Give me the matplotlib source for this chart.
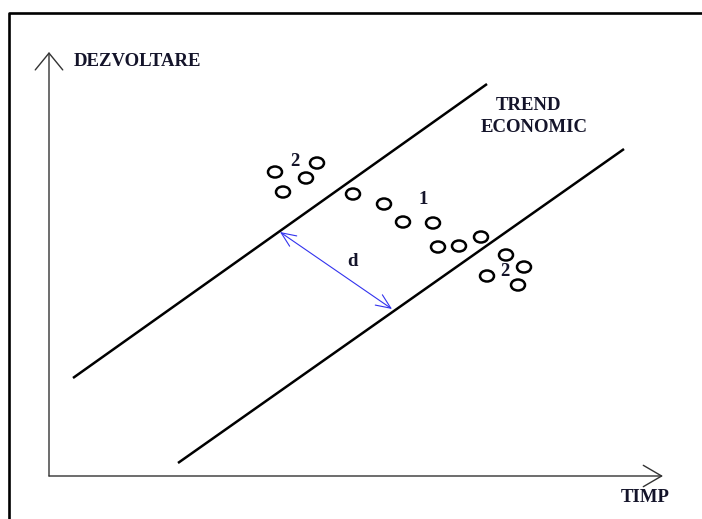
import matplotlib
matplotlib.use("Agg")
import matplotlib.pyplot as plt
from matplotlib.patches import Ellipse, FancyArrowPatch

# diagram coordinates (pixel space of the original picture, y downwards)
upper_x = [73, 487]
upper_y = [378, 84]
lower_x = [178, 624]
lower_y = [463, 149]

# observations: group 2 (upper left), group 1 (inside the band), group 2 (lower right)
grp2a_x = [275, 317, 306, 283]
grp2a_y = [172, 163, 178, 192]
grp1_x = [353, 384, 403, 433, 438, 459, 481]
grp1_y = [194, 204, 222, 223, 247, 246, 237]
grp2b_x = [506, 524, 487, 518]
grp2b_y = [255, 267, 276, 285]

# distance d between the trend lines
d_start = (280, 232)
d_end = (392, 309)

# axes
origin = (49, 476)
y_tip = (49, 52)
x_tip = (663, 476)

labels = ["DEZVOLTARE", "TIMP", "TREND", "ECONOMIC", "d", "1", "2", "2"]
label_pos = [(74, 62), (621, 497), (528, 106), (534, 127),
             (352, 262), (423, 199), (295, 161), (505, 272)]
label_ha = ["left", "left", "center", "center", "center", "center", "center", "center"]

fig = plt.figure(figsize=(7.02, 5.19), dpi=100)
ax = fig.add_axes([0, 0, 1, 1])
ax.set_xlim(0, 702)
ax.set_ylim(519, 0)
ax.axis("off")

# outer frame (only top and left edges show)
ax.plot([9, 9, 710], [530, 13, 13], color="black", lw=1.9, solid_capstyle="butt")

# axes with open arrow heads
ax.annotate("", xy=y_tip, xytext=origin,
            arrowprops=dict(arrowstyle="->,head_length=0.55,head_width=0.45",
                            color="#333333", lw=1.0, shrinkA=0, shrinkB=0,
                            mutation_scale=22))
ax.annotate("", xy=x_tip, xytext=origin,
            arrowprops=dict(arrowstyle="->,head_length=0.6,head_width=0.35",
                            color="#333333", lw=1.0, shrinkA=0, shrinkB=0,
                            mutation_scale=22))

# trend band
ax.plot(upper_x, upper_y, color="black", lw=1.8, solid_capstyle="butt")
ax.plot(lower_x, lower_y, color="black", lw=1.8, solid_capstyle="butt")

# observations
for xs, ys in [(grp2a_x, grp2a_y), (grp1_x, grp1_y), (grp2b_x, grp2b_y)]:
    for x, y in zip(xs, ys):
        ax.add_patch(Ellipse((x, y), 14, 11, facecolor="none",
                             edgecolor="black", lw=1.8))

# distance arrow
ax.add_patch(FancyArrowPatch(d_start, d_end,
                             arrowstyle="<->,head_length=0.7,head_width=0.3",
                             mutation_scale=15, color="#3333ee", lw=0.8,
                             shrinkA=0, shrinkB=0))

for s, (x, y), ha in zip(labels, label_pos, label_ha):
    ax.text(x, y, s, ha=ha, va="center", fontsize=13.5, fontweight="bold",
            family="Liberation Serif", color="#14142a")

fig.savefig("out.png", dpi=100)
